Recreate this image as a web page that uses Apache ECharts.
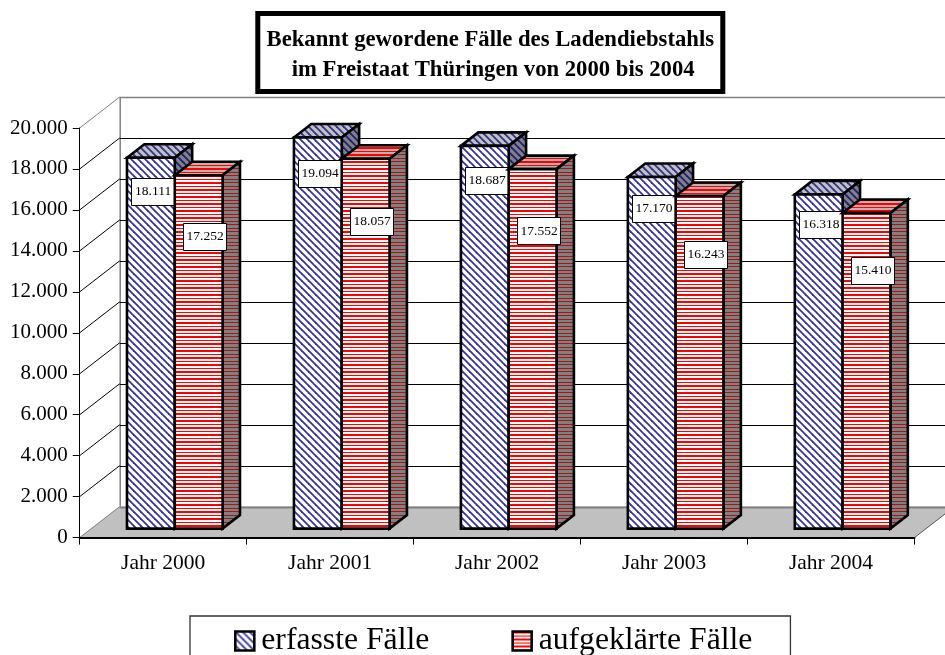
<!DOCTYPE html>
<html><head><meta charset="utf-8">
<style>html,body{margin:0;padding:0;background:#fff}#c{width:945px;height:655px}</style>
<script src="https://cdn.jsdelivr.net/npm/echarts@6/dist/echarts.min.js"></script>
</head><body><div id="c"></div>
<script>
const categories = ['Jahr 2000','Jahr 2001','Jahr 2002','Jahr 2003','Jahr 2004'];
const erfasst = [18111,19094,18687,17170,16318];
const aufgeklaert = [17252,18057,17552,16243,15410];
const seriesNames = ['erfasste Fälle','aufgeklärte Fälle'];
const yTicks = [0,2000,4000,6000,8000,10000,12000,14000,16000,18000,20000];
const yTickLabels = ['0','2.000','4.000','6.000','8.000','10.000','12.000','14.000','16.000','18.000','20.000'];
const titleText = 'Bekannt gewordene Fälle des Ladendiebstahls\n im Freistaat Thüringen von 2000 bis 2004';

const FONT = '"Liberation Serif","Times New Roman",serif';
function diag(bg, fg){
  const T=7;
  const c=document.createElement('canvas');c.width=c.height=T;const g=c.getContext('2d');
  g.fillStyle=bg;g.fillRect(0,0,T,T);g.strokeStyle=fg;g.lineWidth=1.8;
  [-T,0,T].forEach(o=>{g.beginPath();g.moveTo(o-1,-1);g.lineTo(o+T+1,T+1);g.stroke();});
  return {image:c,repeat:'repeat'};
}
function horiz(bg, fg, bands){
  const c=document.createElement('canvas');c.width=c.height=7;const g=c.getContext('2d');
  g.fillStyle=bg;g.fillRect(0,0,7,7);g.fillStyle=fg;
  bands.forEach(b=>g.fillRect(0,b[0],7,b[1]));
  return {image:c,repeat:'repeat'};
}
const fills = [
  {front:diag('#fff','#3333a0'),top:diag('#c0c0c8','#333380'),side:diag('#808088','#1f1f70')},
  {front:horiz('#fff','#ff0000',[[0,2],[4,1]]),top:horiz('#c0b0b0','#ff0000',[[0,2],[4,1]]),side:horiz('#808080','#a01818',[[0,1],[4,1]])}
];
const DX=40,DY=-31;            // wall depth
const BX=11.6,BY=-9,CX=17.4,CY=-13.5;  // bar gap + depth
const BAR=47.8, LW=2.6;
const poly=(pts,fill)=>({type:'polygon',shape:{points:pts},style:{fill:fill,stroke:'#000',lineWidth:LW,lineJoin:'miter'}});

function barRender(k){
  return function(params,api){
    const i=api.value(0),v=api.value(1);
    const p=api.coord([i,v]),b=api.coord([i,0]);
    const x0=p[0]+BX-BAR+(k*BAR),x1=x0+BAR,yt=p[1]+BY,yb=b[1]+BY;
    const f=fills[k];
    const lbY=api.coord([i,v*(k?0.89:0.9)])[1]+(k?13.3:-12.5);
    const lbX=p[0]+(k?42:-10);
    const txt=String(v).replace(/(\d{3})$/,'.$1');
    return {type:'group',children:[
      poly([[x0,yt],[x0+CX,yt+CY],[x1+CX,yt+CY],[x1,yt]],f.top),
      poly([[x1,yt],[x1+CX,yt+CY],[x1+CX,yb+CY],[x1,yb]],f.side),
      poly([[x0,yt],[x1,yt],[x1,yb],[x0,yb]],f.front),
      {type:'rect',shape:{x:Math.round(lbX-22)+.5,y:Math.round(lbY-13.5)+.5,width:43,height:27},style:{fill:'#fff',stroke:'#000',lineWidth:1},z2:5},
      {type:'text',x:lbX,y:lbY,style:{text:txt,font:'13.5px '+FONT,fill:'#000',align:'center',verticalAlign:'middle'},z2:6}
    ]};
  };
}
function wallRender(params,api){
  const cs=params.coordSys,t=api.value(1),y=api.coord([0,t])[1];
  const L=cs.x,R=cs.x+cs.width,grey=(t===0||t===20000);
  const sy=Math.round(y+DY)+.5;
  const line=(a,c,w)=>({type:'polyline',shape:{points:a},style:{fill:null,stroke:c,lineWidth:w||1}});
  const ch=[];
  if(t===0){
    ch.push({type:'polygon',shape:{points:[[L,y],[L+DX,y+DY],[R+DX,y+DY],[R,y]]},style:{fill:'#c0c0c0'}});
    ch.push(line([[R,y],[R+DX,y+DY]],'#555'));
    ch.push(line([[L+DX,sy],[R+DX,sy]],'#808080',2));
    ch.push(line([[L,y],[L+DX,y+DY]],'#808080'));
    ch.push(line([[L+DX+.5,y+DY],[L+DX+.5,cs.y+DY]],'#808080',1.5));
  } else {
    ch.push(line([[L,y],[L+DX,y+DY]],grey?'#808080':'#000'));
    ch.push(line([[L+DX,sy],[R+DX,sy]],grey?'#808080':'#000',grey?1.5:1));
  }
  return {type:'group',children:ch};
}
const chart=echarts.init(document.getElementById('c'));
chart.setOption({
  animation:false,
  backgroundColor:'#fff',
  title:{text:titleText,left:481.3,top:13,textAlign:'center',padding:[12,9,7,9],
    backgroundColor:'#fff',borderColor:'#000',borderWidth:5,
    textStyle:{fontFamily:FONT,fontWeight:'bold',fontSize:22.7,lineHeight:30,color:'#000',align:'center'}},
  legend:{left:190,top:616,selectedMode:false,orient:'horizontal',
    padding:[9,38,20,44],itemGap:82,itemWidth:19,itemHeight:19,
    borderColor:'#333',borderWidth:1.3,backgroundColor:'#fff',
    textStyle:{fontFamily:FONT,fontSize:31.7,color:'#000',padding:[0,0,0,2]},
    data:[
      {name:seriesNames[0],icon:'rect',itemStyle:{color:fills[0].front,borderColor:'#000',borderWidth:2.6}},
      {name:seriesNames[1],icon:'rect',itemStyle:{color:fills[1].front,borderColor:'#000',borderWidth:2.6}}
    ]},
  grid:{left:79.7,top:128,width:834.8,height:409.6,containLabel:false},
  xAxis:{type:'category',data:categories,z:5,
    axisLine:{lineStyle:{color:'#000',width:2}},
    axisTick:{show:true,alignWithLabel:false,length:7,lineStyle:{color:'#000',width:1}},
    axisLabel:{fontFamily:FONT,fontSize:21.5,color:'#000',margin:15},splitLine:{show:false}},
  yAxis:{type:'value',min:0,max:20000,interval:2000,z:5,
    axisLine:{show:true,lineStyle:{color:'#000',width:1}},
    axisTick:{show:true,length:7,lineStyle:{color:'#000',width:1}},
    axisLabel:{fontFamily:FONT,fontSize:21,color:'#000',margin:12,
      formatter:v=>yTickLabels[yTicks.indexOf(v)]},
    splitLine:{show:false}},
  series:[
    {type:'custom',name:'Wand',silent:true,z:1,clip:false,renderItem:wallRender,
      data:yTicks.map(t=>[0,t]),encode:{x:0,y:1}},
    {type:'custom',name:seriesNames[0],silent:true,z:2,clip:false,renderItem:barRender(0),
      itemStyle:{color:fills[0].front},data:erfasst.map((v,i)=>[i,v]),encode:{x:0,y:1}},
    {type:'custom',name:seriesNames[1],silent:true,z:3,clip:false,renderItem:barRender(1),
      itemStyle:{color:fills[1].front},data:aufgeklaert.map((v,i)=>[i,v]),encode:{x:0,y:1}}
  ]
});
</script></body></html>
